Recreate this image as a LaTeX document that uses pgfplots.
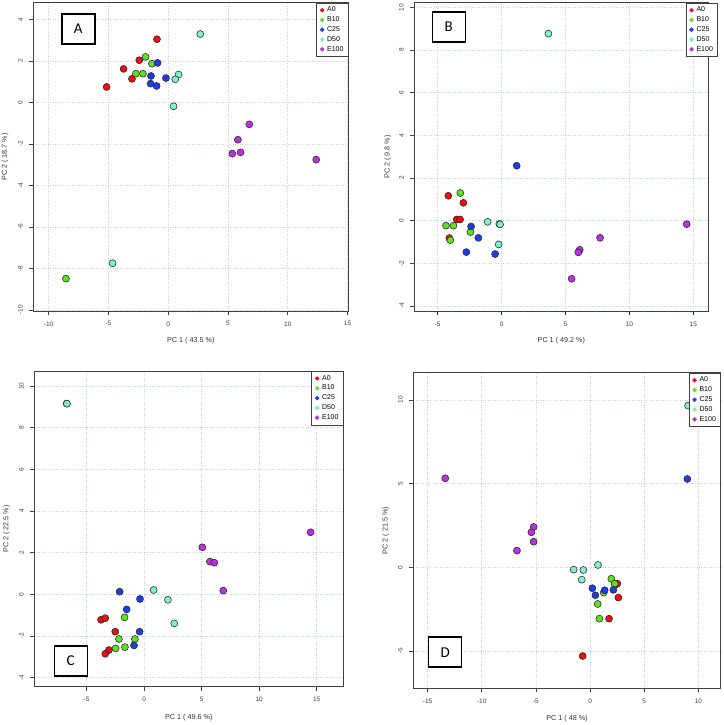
\documentclass[border=0pt]{standalone}
\usepackage{pgfplots}
\pgfplotsset{compat=1.18}
\usepackage{fontspec}
\setmainfont{Liberation Sans}
\newfontfamily\calib{Carlito}
\definecolor{cA}{RGB}{235,15,15}
\definecolor{cB}{RGB}{95,225,35}
\definecolor{cC}{RGB}{30,60,230}
\definecolor{cD}{RGB}{125,240,210}
\definecolor{cE}{RGB}{185,50,220}
\definecolor{gridc}{RGB}{200,208,222}
\pgfplotsset{
  sA/.style={only marks, mark=*, mark size=3.5pt, draw=black!85, fill=cA, line width=0.55pt, forget plot},
  sB/.style={only marks, mark=*, mark size=3.5pt, draw=black!85, fill=cB, line width=0.55pt, forget plot},
  sC/.style={only marks, mark=*, mark size=3.5pt, draw=black!85, fill=cC, line width=0.55pt, forget plot},
  sD/.style={only marks, mark=*, mark size=3.5pt, draw=black!85, fill=cD, line width=0.55pt, forget plot},
  sE/.style={only marks, mark=*, mark size=3.5pt, draw=black!85, fill=cE, line width=0.55pt, forget plot},
  pca/.style={
    scale only axis,
    axis line style={draw=black!75, line width=0.7pt},
    tick align=outside, tick pos=left,
    major tick length=4pt,
    tick style={draw=black!75, line width=0.6pt},
    grid=major,
    major grid style={dotted, draw=gridc, line width=0.6pt},
    /pgf/number format/assume math mode=true,
    ticklabel style={font=\fontsize{6.5}{7}\selectfont, text=black!75},
    xticklabel shift=3pt, yticklabel shift=3pt,
    yticklabel style={rotate=90, anchor=south},
    label style={font=\fontsize{7.2}{8}\selectfont, text=black!80},
    xlabel style={at={(axis description cs:0.5,-0.097)}, anchor=center},
    ylabel style={at={(axis description cs:-0.09,0.5)}, anchor=center},
    legend style={at={(1,1)}, anchor=north east, font=\fontsize{7}{8.2}\selectfont,
      draw=black!75, line width=0.6pt, fill=white, inner xsep=2.5pt, inner ysep=2pt, row sep=-0.6pt},
    legend cell align=left,
  },
}
\newcommand{\pcalegend}{%
  \addlegendimage{legend image code/.code={\path[draw=none,fill=none] (0pt,-0.1pt) rectangle (6pt,0.1pt); \fill[cA] (3pt,0) circle (1.9pt);}}\addlegendentry{A0}
  \addlegendimage{legend image code/.code={\path[draw=none,fill=none] (0pt,-0.1pt) rectangle (6pt,0.1pt); \fill[cB] (3pt,0) circle (1.9pt);}}\addlegendentry{B10}
  \addlegendimage{legend image code/.code={\path[draw=none,fill=none] (0pt,-0.1pt) rectangle (6pt,0.1pt); \fill[cC] (3pt,0) circle (1.9pt);}}\addlegendentry{C25}
  \addlegendimage{legend image code/.code={\path[draw=none,fill=none] (0pt,-0.1pt) rectangle (6pt,0.1pt); \fill[cD] (3pt,0) circle (1.9pt);}}\addlegendentry{D50}
  \addlegendimage{legend image code/.code={\path[draw=none,fill=none] (0pt,-0.1pt) rectangle (6pt,0.1pt); \fill[cE] (3pt,0) circle (1.9pt);}}\addlegendentry{E100}
}
\begin{document}
\begin{tikzpicture}
\useasboundingbox (0pt,0pt) rectangle (723pt,725pt);
% Panel A
\begin{axis}[pca, at={(33.3pt,414pt)}, anchor=south west, width=315pt, height=308.3pt,
  xmin=-11.28, xmax=15.06, ymin=-10.05, ymax=4.8,
  xtick={-10,-5,...,15}, ytick={-10,-8,...,4},
  xlabel={PC 1 ( 43.5 \%)}, ylabel={PC 2 ( 18.7 \%)}]
\pcalegend
\addplot[sA] coordinates {(-0.94,3.04) (-2.42,2.03) (-3.73,1.61) (-3.03,1.13) (-5.15,0.74)};
\addplot[sB] coordinates {(-1.89,2.19) (-1.36,1.86) (-2.70,1.38) (-2.11,1.38) (-8.55,-8.49)};
\addplot[sC] coordinates {(-0.89,1.90) (-1.44,1.27) (-1.47,0.90) (-0.97,0.79) (-0.19,1.17)};
\addplot[sD] coordinates {(2.68,3.29) (0.87,1.34) (0.59,1.11) (0.45,-0.19) (-4.65,-7.75)};
\addplot[sE] coordinates {(6.78,-1.06) (5.83,-1.80) (6.05,-2.41) (5.36,-2.47) (12.38,-2.76)};
\end{axis}
% Panel B
\begin{axis}[pca, at={(414.3pt,414pt)}, anchor=south west, width=294pt, height=308.3pt,
  xmin=-6.83, xmax=16.17, ymin=-4.23, ymax=10.22,
  xtick={-5,0,...,15}, ytick={-4,-2,...,10},
  legend style={xshift=9.4pt},
  xlabel={PC 1 ( 49.2 \%)}, ylabel={PC 2 ( 9.8 \%)}]
\pcalegend
\addplot[sA] coordinates {(-4.17,1.17) (-2.99,0.84) (-3.51,0.06) (-3.25,0.06) (-4.09,-0.81)};
\addplot[sB] coordinates {(-3.23,1.30) (-4.35,-0.23) (-3.77,-0.23) (-2.44,-0.53) (-4.01,-0.91)};
\addplot[sC] coordinates {(1.18,2.58) (-2.39,-0.27) (-1.82,-0.80) (-2.76,-1.47) (-0.51,-1.56)};
\addplot[sD] coordinates {(3.66,8.77) (-1.09,-0.05) (-0.18,-0.15) (-0.12,-0.17) (-0.23,-1.11)};
\addplot[sE] coordinates {(14.48,-0.16) (7.70,-0.80) (6.11,-1.36) (6.00,-1.48) (5.48,-2.72)};
\end{axis}
% Panel C
\begin{axis}[pca, at={(34.3pt,38.3pt)}, anchor=south west, width=309pt, height=315.7pt,
  xmin=-9.55, xmax=17.32, ymin=-4.43, ymax=10.72,
  xtick={-5,0,...,15}, ytick={-4,-2,...,10},
  xlabel={PC 1 ( 49.6 \%)}, ylabel={PC 2 ( 22.5 \%)}]
\pcalegend
\addplot[sA] coordinates {(-3.75,-1.22) (-3.38,-1.14) (-2.51,-1.79) (-3.06,-2.67) (-3.38,-2.85)};
\addplot[sB] coordinates {(-1.70,-1.10) (-2.19,-2.14) (-0.80,-2.14) (-2.48,-2.59) (-1.67,-2.53)};
\addplot[sC] coordinates {(-2.13,0.13) (-0.36,-0.22) (-1.52,-0.72) (-0.39,-1.79) (-0.88,-2.45)};
\addplot[sD] coordinates {(-6.74,9.16) (-6.71,9.15) (0.83,0.21) (2.07,-0.26) (2.62,-1.39)};
\addplot[sE] coordinates {(14.48,2.98) (5.06,2.26) (5.72,1.57) (6.10,1.52) (6.88,0.18)};
\end{axis}
% Panel D
\begin{axis}[pca, at={(413.3pt,36.7pt)}, anchor=south west, width=307.4pt, height=315.6pt,
  xmin=-16.32, xmax=12.06, ymin=-7.23, ymax=11.63,
  xtick={-15,-10,...,10}, ytick={-5,0,5,10},
  xlabel={PC 1 ( 48 \%)}, ylabel={PC 2 ( 21.5 \%)}]
\pcalegend
\addplot[sA] coordinates {(2.30,-1.05) (2.52,-0.98) (2.61,-1.81) (1.75,-3.07) (-0.68,-5.30)};
\addplot[sB] coordinates {(1.96,-0.68) (2.27,-0.98) (1.26,-1.51) (0.70,-2.19) (0.86,-3.07)};
\addplot[sC] coordinates {(8.98,5.28) (0.21,-1.25) (0.49,-1.67) (1.35,-1.37) (2.15,-1.35)};
\addplot[sD] coordinates {(-1.51,-0.14) (-0.62,-0.16) (0.73,0.14) (-0.77,-0.74) (9.05,9.66)};
\addplot[sE] coordinates {(-13.37,5.32) (-5.21,2.41) (-5.42,2.09) (-5.21,1.53) (-6.75,1.00)};
\end{axis}
% panel letters
\node[draw=black, line width=1.4pt, fill=white, minimum width=33pt, minimum height=30pt, inner sep=0pt, font=\calib\fontsize{15}{15}\selectfont] at (78.3pt,696pt) {A};
\node[draw=black, line width=1.4pt, fill=white, minimum width=33pt, minimum height=30pt, inner sep=0pt, font=\calib\fontsize{15}{15}\selectfont] at (448.8pt,698pt) {B};
\node[draw=black, line width=1.4pt, fill=white, minimum width=33pt, minimum height=30pt, inner sep=0pt, font=\calib\fontsize{15}{15}\selectfont] at (70.7pt,64pt) {C};
\node[draw=black, line width=1.4pt, fill=white, minimum width=33pt, minimum height=30pt, inner sep=0pt, font=\calib\fontsize{15}{15}\selectfont] at (445.2pt,72.8pt) {D};
\end{tikzpicture}
\end{document}
